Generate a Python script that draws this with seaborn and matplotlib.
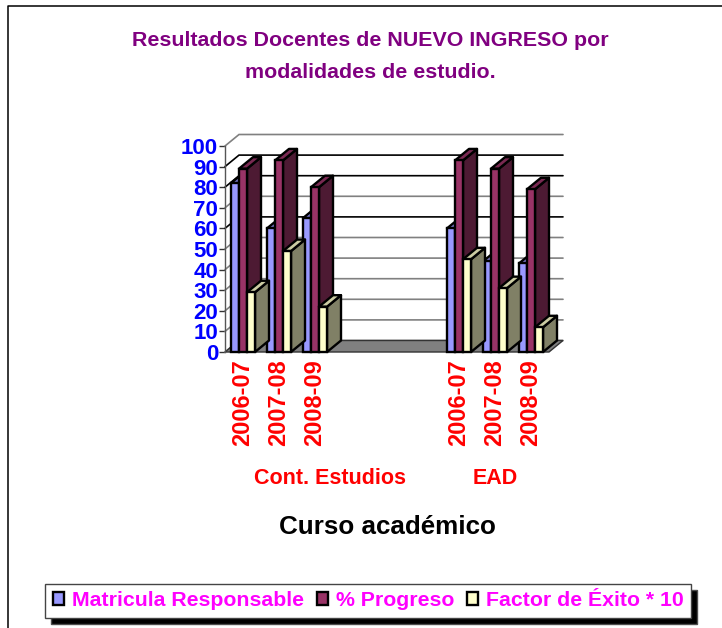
import numpy as np
import pandas as pd
import seaborn as sns
import matplotlib
matplotlib.use("Agg")
import matplotlib.pyplot as plt
from matplotlib.patches import Patch, Polygon
from matplotlib.lines import Line2D

# data
slots = ["C 2006-07", "C 2007-08", "C 2008-09", "a", "b", "c", "E 2006-07", "E 2007-08", "E 2008-09"]
courses = ["C 2006-07", "C 2007-08", "C 2008-09", "E 2006-07", "E 2007-08", "E 2008-09"]
course_labels = ["2006-07", "2007-08", "2008-09", "", "", "", "2006-07", "2007-08", "2008-09"]
matricula = [82, 60, 65, 60, 44, 43]
progreso = [89, 93, 80, 93, 89, 79]
factor = [29, 49, 22, 45, 31, 12]
series_names = ["Matricula Responsable", "% Progreso", "Factor de Éxito * 10"]
colors = ["#9999FF", "#993366", "#FFFFCC"]
yticks = list(range(0, 101, 10))
grid_colors = ["#808080", "#808080", "#808080", "#808080", "#808080", "#808080",
               "#000000", "#808080", "#000000", "#000000", "#808080"]

W, H = 722, 628
DX, DY = 14, 11.5  # depth of the fake 3d, pixels
EDGE = 1.7

sns.set_theme(style="white")
plt.rcParams["font.family"] = ["Liberation Sans", "DejaVu Sans"]
plt.rcParams["font.weight"] = "bold"

df = pd.DataFrame({
    "curso": courses * 3,
    "serie": sum([[s] * 6 for s in series_names], []),
    "valor": matricula + progreso + factor,
})

fig = plt.figure(figsize=(W / 100, H / 100), dpi=100)
ax = fig.add_axes([225 / W, 1 - 352 / H, 324 / W, 206 / H])
sns.barplot(data=df, x="curso", y="valor", hue="serie", order=slots, hue_order=series_names,
            palette=colors, width=0.667, saturation=1, errorbar=None, legend=False,
            edgecolor="black", linewidth=EDGE, ax=ax)
ax.set_xlim(-0.5, 8.5)
ax.set_ylim(0, 100)
ax.patch.set_alpha(0)

ddx = DX * 9 / 324
ddy = DY * 100 / 206


def darker(c, f):
    return tuple(v * f for v in matplotlib.colors.to_rgb(c))


# back wall and floor
for y, gc in zip(yticks, grid_colors):
    ax.plot([-0.5, -0.5 + ddx, 8.5 + ddx], [y, y + ddy, y + ddy], color=gc, lw=1.2,
            clip_on=False, zorder=1, solid_joinstyle="miter")
ax.add_patch(Polygon([(-0.5, 0), (8.5, 0), (8.5 + ddx, ddy), (-0.5 + ddx, ddy)], closed=True,
                     facecolor="#808080", edgecolor="#333333", lw=1, clip_on=False, zorder=1.5))

# extrude every bar
for i, (cont, col) in enumerate(zip(ax.containers, colors)):
    for bar in cont:
        h = bar.get_height()
        if np.isnan(h) or h == 0:
            continue
        x0, x1 = bar.get_x(), bar.get_x() + bar.get_width()
        bar.set_zorder(4 + 2 * i)
        bar.set_clip_on(False)
        ax.add_patch(Polygon([(x1, 0), (x1 + ddx, ddy), (x1 + ddx, h + ddy), (x1, h)], closed=True,
                             facecolor=darker(col, 0.5), edgecolor="black", lw=EDGE,
                             clip_on=False, zorder=3 + 2 * i, joinstyle="round"))
        ax.add_patch(Polygon([(x0, h), (x0 + ddx, h + ddy), (x1 + ddx, h + ddy), (x1, h)], closed=True,
                             facecolor=darker(col, 0.8), edgecolor="black", lw=EDGE,
                             clip_on=False, zorder=3 + 2 * i, joinstyle="round"))

ax.set_xlabel("")
ax.set_ylabel("")
ax.set_xticks(range(9))
ax.set_xticklabels(course_labels, rotation=90, color="red", fontsize=17, fontweight="bold")
ax.set_yticks(yticks)
ax.set_yticklabels(yticks, color="#0000FF", fontsize=16, fontweight="bold")
ax.tick_params(axis="x", length=0, pad=5)
ax.tick_params(axis="y", length=4, width=1, color="#333333", pad=1, left=True)
for name, sp in ax.spines.items():
    sp.set_visible(name == "left")
ax.spines["left"].set_color("#555555")
ax.spines["left"].set_linewidth(1)

# texts
fig.text(370.5 / W, 1 - 41 / H, "Resultados Docentes de NUEVO INGRESO por", ha="center", va="center",
         color="#800080", fontsize=15.4, fontweight="bold")
fig.text(370.5 / W, 1 - 72 / H, "modalidades de estudio.", ha="center", va="center",
         color="#800080", fontsize=15.4, fontweight="bold")
fig.text(330.5 / W, 1 - 479 / H, "Cont. Estudios", ha="center", va="center", color="red", fontsize=15.5, fontweight="bold")
fig.text(495 / W, 1 - 479 / H, "EAD", ha="center", va="center", color="red", fontsize=15.5, fontweight="bold")
fig.text(387 / W, 1 - 527 / H, "Curso académico", ha="center", va="center", color="black", fontsize=18.7, fontweight="bold")

# chart frame, only top and left are inside the crop
fig.add_artist(Line2D([8 / W, 8 / W, 1], [0, 1 - 6 / H, 1 - 6 / H], color="black", lw=1.1))

handles = [Patch(facecolor=c, edgecolor="black", lw=EDGE, label=n) for c, n in zip(colors, series_names)]
leg = fig.legend(handles=handles, loc="lower left", bbox_to_anchor=(45 / W, 1 - 618 / H), ncol=3,
                 fontsize=15.3, handlelength=0.55, handleheight=0.55, handletextpad=0.35,
                 columnspacing=0.6, borderpad=0.36, borderaxespad=0, fancybox=False,
                 framealpha=1, edgecolor="#444444", shadow={"facecolor": "black", "alpha": 1, "ox": 4.3, "oy": -4.3})
for t in leg.get_texts():
    t.set_color("#FF00FF")
    t.set_fontweight("bold")

fig.savefig("out.png", dpi=100)
